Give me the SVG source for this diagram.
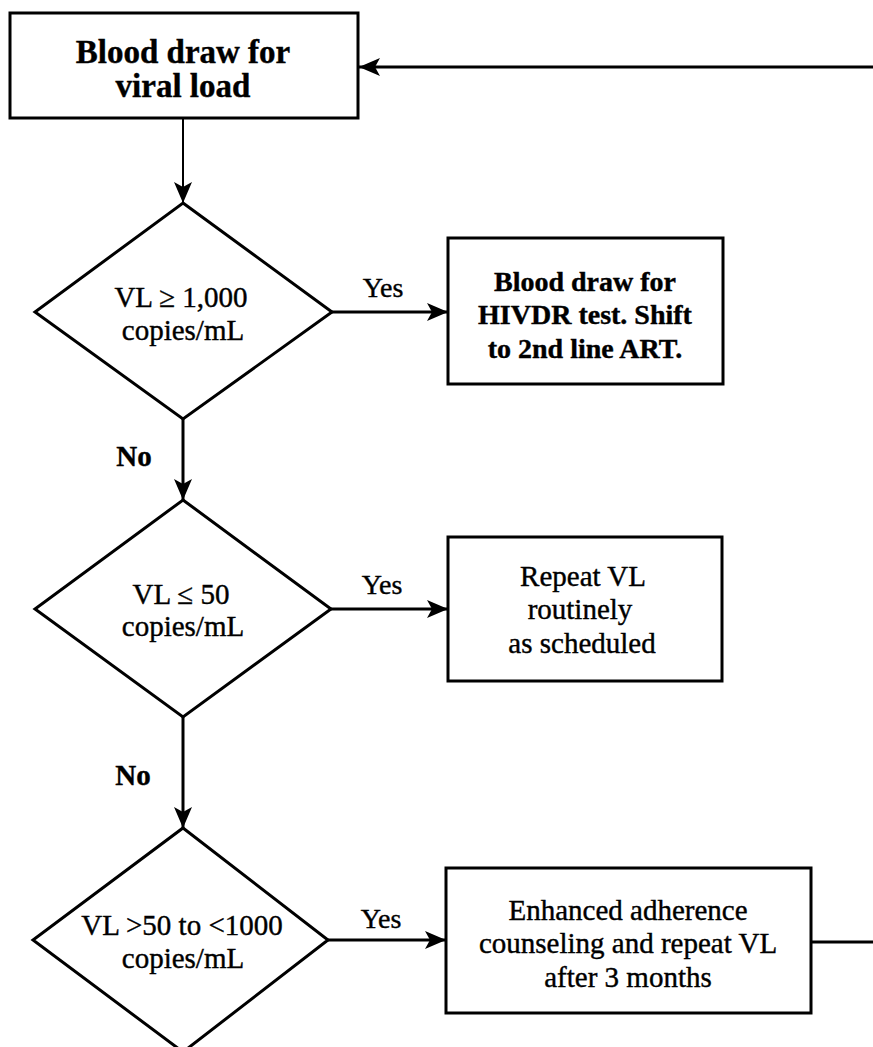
<svg xmlns="http://www.w3.org/2000/svg" width="873" height="1047" viewBox="0 0 873 1047">
<style>
.box{fill:#fff;stroke:#000;stroke-width:3}
.dia{fill:#fff;stroke:#000;stroke-width:3}
.con{fill:none;stroke:#000;stroke-width:3}
.thin{stroke-width:2}
text{font-family:"Liberation Serif","Times New Roman",serif;fill:#000;text-anchor:middle;stroke:#000;stroke-width:0.4}
.t1{font-size:33px;font-weight:bold}
.tb{font-size:28px;font-weight:bold}
.tr{font-size:29px}
.lbl{font-size:28px}
.no{font-size:29px;font-weight:bold}
</style>
<defs>
<marker id="arr" markerUnits="userSpaceOnUse" markerWidth="22" markerHeight="20" refX="21" refY="10" orient="auto">
<path d="M0,1 L21,10 L0,19 L5,10 z" fill="#000"/>
</marker>
</defs>
<g id="connectors">
<line class="con" x1="873" y1="67" x2="359" y2="67" marker-end="url(#arr)"/>
<line class="con thin" x1="183" y1="118" x2="183" y2="203" marker-end="url(#arr)"/>
<line class="con" x1="332" y1="312" x2="448" y2="312" marker-end="url(#arr)"/>
<line class="con" x1="183" y1="419" x2="183" y2="500" marker-end="url(#arr)"/>
<line class="con" x1="331" y1="609" x2="448" y2="609" marker-end="url(#arr)"/>
<line class="con" x1="183" y1="717" x2="183" y2="828" marker-end="url(#arr)"/>
<line class="con" x1="328" y1="940" x2="446" y2="940" marker-end="url(#arr)"/>
<line class="con" x1="811" y1="942" x2="873" y2="942"/>
<text class="lbl" x="383" y="297">Yes</text>
<text class="no" x="134" y="466">No</text>
<text class="lbl" x="382" y="594">Yes</text>
<text class="no" x="133" y="785">No</text>
<text class="lbl" x="381" y="928">Yes</text>
</g>
<g id="n1">
<rect class="box" x="10" y="13" width="348" height="105"/>
<text class="t1" x="183" y="63">Blood draw for</text>
<text class="t1" x="183" y="97">viral load</text>
</g>
<g id="d1">
<polygon class="dia" points="183,203 332,312 183,419 35,312"/>
<text class="tr" x="181" y="307">VL ≥ 1,000</text>
<text class="tr" x="183" y="340">copies/mL</text>
</g>
<g id="n2">
<rect class="box" x="448" y="238" width="275" height="146"/>
<text class="tb" x="585" y="291">Blood draw for</text>
<text class="tb" x="585" y="324">HIVDR test. Shift</text>
<text class="tb" x="585" y="358">to 2nd line ART.</text>
</g>
<g id="d2">
<polygon class="dia" points="183,500 331,609 183,717 35,609"/>
<text class="tr" x="181" y="604">VL ≤ 50</text>
<text class="tr" x="183" y="636">copies/mL</text>
</g>
<g id="n3">
<rect class="box" x="448" y="537" width="274" height="144"/>
<text class="tr" x="583" y="586">Repeat VL</text>
<text class="tr" x="580" y="619">routinely</text>
<text class="tr" x="582" y="653">as scheduled</text>
</g>
<g id="d3">
<polygon class="dia" points="183,828 328,940 183,1052 33,940"/>
<text class="tr" x="182" y="935">VL &gt;50 to &lt;1000</text>
<text class="tr" x="183" y="968">copies/mL</text>
</g>
<g id="n4">
<rect class="box" x="446" y="868" width="365" height="145"/>
<text class="tr" x="628" y="920">Enhanced adherence</text>
<text class="tr" x="628" y="953">counseling and repeat VL</text>
<text class="tr" x="628" y="987">after 3 months</text>
</g>
</svg>
